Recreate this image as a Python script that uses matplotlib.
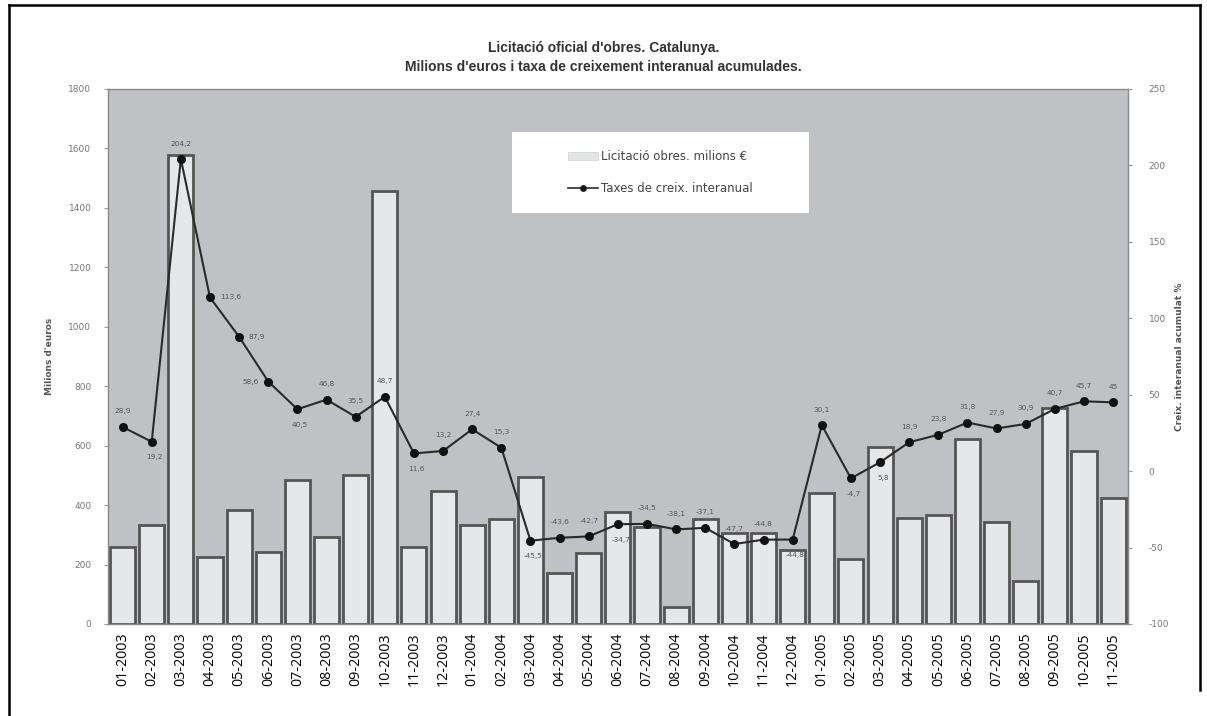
import numpy as np
import matplotlib
matplotlib.use('Agg')
import matplotlib.pyplot as plt
from matplotlib.lines import Line2D
from matplotlib.patches import Rectangle, Patch

plt.rcParams['axes.unicode_minus'] = False

# ── Dades ────────────────────────────────────────────────────────────────
mesos = ['01-2003', '02-2003', '03-2003', '04-2003', '05-2003', '06-2003',
         '07-2003', '08-2003', '09-2003', '10-2003', '11-2003', '12-2003',
         '01-2004', '02-2004', '03-2004', '04-2004', '05-2004', '06-2004',
         '07-2004', '08-2004', '09-2004', '10-2004', '11-2004', '12-2004',
         '01-2005', '02-2005', '03-2005', '04-2005', '05-2005', '06-2005',
         '07-2005', '08-2005', '09-2005', '10-2005', '11-2005']

licitacio = [260, 333, 1578, 226, 383, 243, 484, 292, 501, 1457, 260, 448,
             333, 352, 496, 170, 240, 378, 325, 56, 352, 307, 305, 249,
             442, 218, 594, 356, 367, 621, 343, 145, 726, 583, 423]

taxes = [28.9, 19.2, 204.2, 113.6, 87.9, 58.6, 40.5, 46.8, 35.5, 48.7, 11.6,
         13.2, 27.4, 15.3, -45.5, -43.6, -42.7, -34.7, -34.5, -38.1, -37.1,
         -47.7, -44.8, -44.8, 30.1, -4.7, 5.8, 18.9, 23.8, 31.8, 27.9, 30.9,
         40.7, 45.7, 45.0]

# posició de l'etiqueta de cada punt: a=amunt, b=avall, l=esquerra, r=dreta
pos_etiqueta = ['a', 'b', 'a', 'r', 'r', 'l', 'b', 'a', 'a', 'a', 'b', 'a',
                'a', 'a', 'b', 'a', 'a', 'b', 'a', 'a', 'a', 'a', 'a', 'b',
                'a', 'b', 'b', 'a', 'a', 'a', 'a', 'a', 'a', 'a', 'a']

# ── Figura ───────────────────────────────────────────────────────────────
fig = plt.figure(figsize=(12.07, 7.16), dpi=100)
ax = fig.add_axes([0.0895, 0.1285, 0.8448, 0.7472])
ax.set_facecolor('#c0c1c4')

x = np.arange(len(mesos))
ax.bar(x, licitacio, width=0.86, color='#e6e7e9', edgecolor='#555555',
       linewidth=2.0, zorder=2)
ax.set_xlim(-0.5, len(mesos) - 0.5)
ax.set_ylim(0, 1800)
ax.set_yticks(np.arange(0, 1801, 200))
ax.tick_params(axis='y', labelsize=6.5, labelcolor='#777777', color='#999999',
               length=3, width=0.8, pad=9)
ax.set_xticks(x)
ax.set_xticklabels(mesos, rotation=90, fontsize=10.3, family='Open Sans')
ax.tick_params(axis='x', length=0, pad=6)
ax.set_ylabel("Milions d'euros", fontsize=6.5, color='#555555',
              fontweight='bold', labelpad=10)
for s in ax.spines.values():
    s.set_color('#8a8a8a')
    s.set_linewidth(1.0)

ax2 = ax.twinx()
ax2.plot(x, taxes, color='#2a2a2a', linewidth=1.5, marker='o',
         markersize=5.5, markerfacecolor='#111111', markeredgecolor='#111111',
         zorder=3)
ax2.set_ylim(-100, 250)
ax2.set_yticks(np.arange(-100, 251, 50))
ax2.tick_params(axis='y', labelsize=6.5, labelcolor='#777777', color='#999999',
                length=3, width=0.8, pad=12)
ax2.set_ylabel('Creix. interanual acumulat %', fontsize=6.5, color='#555555',
               fontweight='bold', labelpad=4)
for s in ax2.spines.values():
    s.set_visible(False)

desplac = {'a': (0, 9, 'center', 'bottom'), 'b': (2, -9, 'center', 'top'),
           'l': (-7, 0, 'right', 'center'), 'r': (7, 0, 'left', 'center')}
for xi, v, p in zip(x, taxes, pos_etiqueta):
    dx, dy, ha, va = desplac[p]
    txt = f'{v:g}'.replace('.', ',')
    ax2.annotate(txt, (xi, v), xytext=(dx, dy), textcoords='offset points',
                 ha=ha, va=va, fontsize=5.3, color='#555555', zorder=4)

# ── Llegenda ─────────────────────────────────────────────────────────────
ax2.add_patch(Rectangle((0.396, 0.768), 0.291, 0.152, transform=ax2.transAxes,
                        facecolor='white', edgecolor='none', zorder=5))
handles = [Patch(facecolor='#e3e4e6', edgecolor='#d0d0d0', linewidth=0.5),
           Line2D([], [], color='#2a2a2a', linewidth=1.2, marker='o',
                  markersize=4, markerfacecolor='#111111')]
leg = ax2.legend(handles, ['Licitació obres. milions €',
                           'Taxes de creix. interanual'],
                 loc='center', bbox_to_anchor=(0.5415, 0.844),
                 bbox_transform=ax2.transAxes, frameon=False, fontsize=8.5,
                 labelcolor='#444444', labelspacing=1.6, handlelength=2.6,
                 handletextpad=0.2)
leg.set_zorder(6)
ax.set_zorder(1)
ax2.set_zorder(2)
ax2.patch.set_visible(False)

# ── Títol ────────────────────────────────────────────────────────────────
fig.text(0.5, 0.927, "Licitació oficial d'obres. Catalunya.", ha='center',
         fontsize=10, fontweight='bold', color='#333333',
         family='Liberation Sans')
fig.text(0.5, 0.901, "Milions d'euros i taxa de creixement interanual acumulades.",
         ha='center', fontsize=10, fontweight='bold', color='#333333',
         family='Liberation Sans')

# marc exterior
fig.add_artist(Line2D([0.0075, 0.0075], [0.0, 0.993], transform=fig.transFigure,
                      color='black', linewidth=1.8))
fig.add_artist(Line2D([0.0075, 0.994], [0.993, 0.993], transform=fig.transFigure,
                      color='black', linewidth=1.8))
fig.add_artist(Line2D([0.994, 0.994], [0.993, 0.036], transform=fig.transFigure,
                      color='black', linewidth=1.8))

fig.savefig('out.png', dpi=100)
